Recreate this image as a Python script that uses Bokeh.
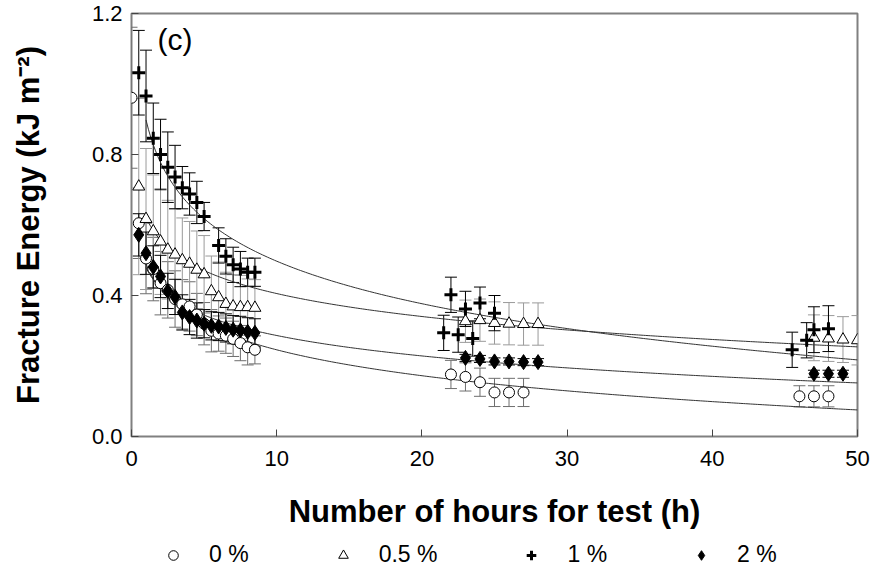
import numpy as np
from bokeh.plotting import figure
from bokeh.layouts import column
from bokeh.models import (Range1d, ColumnDataSource, Whisker, TeeHead, Label,
                          Legend, LegendItem, FixedTicker, CustomJSTickFormatter)
from bokeh.embed import file_html
from bokeh.resources import INLINE

# ---- data ----
h_0 = [0, 0.5, 1.0, 1.5, 2.0, 2.5, 3.0, 3.5, 4.0, 4.5, 5.0, 5.5, 6.0, 6.5, 7.0, 7.5, 8.0, 8.5,
       22, 23, 24, 25, 26, 27, 46, 47, 48]
e_0 = [0.961, 0.605, 0.505, 0.475, 0.435, 0.416, 0.39, 0.375, 0.369, 0.346, 0.32, 0.30, 0.292,
       0.286, 0.277, 0.265, 0.253, 0.246, 0.176, 0.169, 0.154, 0.125, 0.125, 0.125, 0.114, 0.114, 0.114]
s_0 = [0.2, 0.1, 0.1, 0.09, 0.09, 0.08, 0.08, 0.07, 0.07, 0.06, 0.06, 0.06, 0.05, 0.05, 0.05,
       0.05, 0.05, 0.04, 0.04, 0.04, 0.04, 0.04, 0.04, 0.04, 0.03, 0.03, 0.03]

h_05 = [0.5, 1.0, 1.5, 2.0, 2.5, 3.0, 3.5, 4.0, 4.5, 5.0, 5.5, 6.0, 6.5, 7.0, 7.5, 8.0, 8.5,
        23, 24, 25, 26, 27, 28, 47, 48, 49, 50]
e_05 = [0.709, 0.617, 0.582, 0.553, 0.53, 0.516, 0.50, 0.49, 0.473, 0.46, 0.412, 0.395, 0.376,
        0.369, 0.367, 0.367, 0.365, 0.327, 0.33, 0.322, 0.32, 0.319, 0.319, 0.28, 0.278, 0.275, 0.273]
s_05 = [0.25, 0.2, 0.16, 0.15, 0.14, 0.13, 0.12, 0.12, 0.11, 0.11, 0.1, 0.1, 0.09, 0.09, 0.09,
        0.08, 0.08, 0.06, 0.06, 0.06, 0.06, 0.06, 0.06, 0.065, 0.065, 0.065, 0.07]

h_1 = [0.5, 1.0, 1.5, 2.0, 2.5, 3.0, 3.5, 4.0, 4.5, 5.0, 6.0, 6.5, 7.0, 7.5, 8.0, 8.5,
       21.5, 22, 22.5, 23, 23.5, 24, 25, 45.5, 46.5, 47, 48]
e_1 = [1.032, 0.966, 0.846, 0.80, 0.764, 0.736, 0.706, 0.688, 0.664, 0.624, 0.542, 0.511, 0.487,
       0.475, 0.466, 0.466, 0.294, 0.402, 0.289, 0.362, 0.278, 0.379, 0.35, 0.246, 0.273, 0.303, 0.306]
s_1 = [0.12, 0.13, 0.1, 0.1, 0.1, 0.09, 0.06, 0.06, 0.06, 0.04, 0.05, 0.05, 0.05, 0.05, 0.04,
       0.04, 0.05, 0.05, 0.05, 0.05, 0.05, 0.045, 0.05, 0.05, 0.05, 0.065, 0.065]

h_2 = [0.5, 1.0, 1.5, 2.0, 2.5, 3.0, 3.5, 4.0, 4.5, 5.0, 5.5, 6.0, 6.5, 7.0, 7.5, 8.0, 8.5,
       23, 24, 25, 26, 27, 28, 47, 48, 49]
e_2 = [0.572, 0.52, 0.481, 0.454, 0.413, 0.396, 0.352, 0.339, 0.329, 0.32, 0.314, 0.312, 0.308,
       0.303, 0.301, 0.297, 0.294, 0.223, 0.22, 0.213, 0.213, 0.211, 0.211, 0.178, 0.178, 0.178]
s_2 = [0.06, 0.06, 0.06, 0.06, 0.05, 0.05, 0.05, 0.05, 0.05, 0.04, 0.04, 0.04, 0.04, 0.04, 0.04,
       0.04, 0.04, 0.01, 0.01, 0.01, 0.01, 0.01, 0.01, 0.01, 0.01, 0.01]

# logarithmic fit lines  E = a - b ln(t)
fit_a = [0.49, 0.622, 0.898, 0.479]
fit_b = [0.106, 0.094, 0.174, 0.0836]
fit_t0 = [1.0, 1.0, 1.0, 1.0]

labels = ["0 %", "0.5 %", "1 %", "2 %"]
x_ticks = [0, 10, 20, 30, 40, 50]
y_ticks = [0.0, 0.4, 0.8, 1.2]

FONT = "Liberation Sans"

p = figure(width=874, height=538, output_backend="svg", toolbar_location=None,
           x_range=Range1d(0, 50), y_range=Range1d(0, 1.2),
           min_border_left=131, min_border_right=17, min_border_top=13, min_border_bottom=102)
p.background_fill_color = "white"
p.border_fill_color = "white"
p.grid.visible = False
p.outline_line_color = "#808080"
p.outline_line_width = 2

for ax in (p.xaxis[0], p.yaxis[0]):
    ax.axis_line_color = None
    ax.major_tick_in = 7
    ax.major_tick_out = 0
    ax.minor_tick_in = 0
    ax.minor_tick_out = 0
    ax.major_tick_line_color = "#444444"
    ax.major_label_text_font = FONT
    ax.major_label_text_font_size = "22px"
    ax.major_label_text_color = "black"
    ax.axis_label_text_font = FONT
    ax.axis_label_text_font_size = "31px"
    ax.axis_label_text_font_style = "bold"
    ax.axis_label_text_color = "black"

p.xaxis.ticker = FixedTicker(ticks=x_ticks)
p.yaxis.ticker = FixedTicker(ticks=y_ticks)
p.yaxis.formatter = CustomJSTickFormatter(code="return tick.toFixed(1);")
p.xaxis.major_label_standoff = 14
p.yaxis.major_label_standoff = 9
p.xaxis.axis_label = "Number of hours for test (h)"
p.yaxis.axis_label = "Fracture Energy (kJ m\u207b\u00b2)"
p.xaxis.axis_label_standoff = 25
p.yaxis.axis_label_standoff = 43

series = [
    (h_0, e_0, s_0, "#6e6e6e"),
    (h_05, e_05, s_05, "#9a9a9a"),
    (h_1, e_1, s_1, "#000000"),
    (h_2, e_2, s_2, "#000000"),
]

# error bars
for h, e, s, col in series:
    src = ColumnDataSource(dict(x=h, lo=np.array(e) - np.array(s), hi=np.array(e) + np.array(s)))
    w = Whisker(source=src, base="x", lower="lo", upper="hi", dimension="height",
                line_color=col, line_width=1,
                lower_head=TeeHead(size=12, line_color=col, line_width=1),
                upper_head=TeeHead(size=12, line_color=col, line_width=1))
    p.add_layout(w)

# fit curves
for a, b, t0 in zip(fit_a, fit_b, fit_t0):
    t = np.linspace(t0, 50, 300)
    p.line(t, a - b * np.log(t), line_color="#333333", line_width=1)

# markers
marker_styles = [
    dict(marker="circle", size=11, fill_color="white", line_color="black", line_width=1),
    dict(marker="triangle", size=12, fill_color="white", line_color="black", line_width=1),
    dict(marker="cross", size=13, line_color="black", line_width=3),
    dict(marker="diamond", size=15, fill_color="black", line_color="black", line_width=1),
]
for (h, e, s, col), st in zip(series, marker_styles):
    p.scatter(h, e, **st)

p.add_layout(Label(x=26, y=397, x_units="screen", y_units="screen", text="(c)",
                   text_font=FONT, text_font_size="30px", text_baseline="middle",
                   text_color="black"))

# legend strip underneath (its swatch renderers sit outside the visible range)
lf = figure(width=874, height=36, output_backend="svg", toolbar_location=None,
            x_range=Range1d(0, 1), y_range=Range1d(0, 1),
            min_border_left=0, min_border_right=0, min_border_top=0, min_border_bottom=0)
lf.axis.visible = False
lf.grid.visible = False
lf.outline_line_color = None
lf.background_fill_color = "white"
lf.border_fill_color = "white"
items = []
for lab, st in zip(labels, marker_styles):
    r = lf.scatter([5], [5], **st)
    items.append(LegendItem(label=lab, renderers=[r]))
lg = Legend(items=items, location=(30, 6), orientation="horizontal",
            glyph_width=24, glyph_height=24, label_standoff=24, spacing=82,
            padding=0, margin=0, border_line_color=None, background_fill_alpha=0,
            label_text_font=FONT, label_text_font_size="23px", label_text_color="black")
lf.add_layout(lg, "center")

layout = column(p, lf, spacing=0)
open("out.html", "w").write(file_html(layout, INLINE))
